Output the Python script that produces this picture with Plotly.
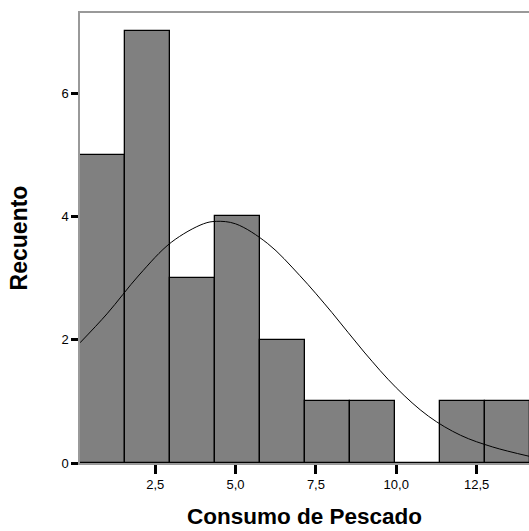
import plotly.graph_objects as go

# Histogram data
bin_start = 0.16
bin_width = 1.4
counts = [5, 7, 3, 4, 2, 1, 1, 0, 1, 1]

# Normal curve points
curve_x = [0.16, 1, 2, 3, 4, 4.4, 5, 6, 7, 8, 9, 10, 11, 12, 13, 14.13]
curve_y = [1.95, 2.42, 3.05, 3.58, 3.88, 3.92, 3.88, 3.56, 3.04, 2.44, 1.80, 1.22, 0.76, 0.45, 0.26, 0.11]

x_tickvals = [2.5, 5.0, 7.5, 10.0, 12.5]
x_ticktext = ["2,5", "5,0", "7,5", "10,0", "12,5"]
y_tickvals = [0, 2, 4, 6]
y_ticktext = ["0", "2", "4", "6"]

x_title = "Consumo de Pescado"
y_title = "Recuento"

centers = [bin_start + bin_width * (i + 0.5) for i in range(len(counts))]

fig = go.Figure()
fig.add_trace(go.Bar(
    x=centers, y=counts, width=[bin_width] * len(counts),
    marker=dict(color="#808080", line=dict(color="black", width=1.3)),
    hoverinfo="skip", showlegend=False,
))
fig.add_trace(go.Scatter(
    x=curve_x, y=curve_y, mode="lines", line=dict(color="black", width=1, shape="spline"),
    hoverinfo="skip", showlegend=False,
))

fig.update_layout(
    width=529, height=531,
    margin=dict(l=80, r=0, t=13, b=68),
    plot_bgcolor="white", paper_bgcolor="white",
    bargap=0,
    font=dict(family="Liberation Sans, Arial, sans-serif", color="black", size=13),
    xaxis=dict(
        range=[0.16, 14.13], tickvals=x_tickvals, ticktext=x_ticktext,
        ticks="outside", ticklen=9, tickwidth=3, tickcolor="black",
        showline=True, linecolor="#999999", linewidth=1.5, mirror=True,
        showgrid=False, zeroline=False, tickfont=dict(size=13),
    ),
    yaxis=dict(
        range=[0, 7.3], tickvals=y_tickvals, ticktext=y_ticktext,
        ticks="outside", ticklen=7, tickwidth=3, tickcolor="black",
        showline=True, linecolor="#999999", linewidth=1.5,
        showgrid=False, zeroline=False, tickfont=dict(size=13),
    ),
    annotations=[
        dict(text="<b>" + x_title + "</b>", xref="paper", yref="paper", x=0.5, y=-0.087,
             xanchor="center", yanchor="top", showarrow=False, font=dict(size=22.5)),
        dict(text="<b>" + y_title + "</b>", xref="paper", yref="paper", x=-0.135, y=0.5,
             xanchor="center", yanchor="middle", textangle=-90, showarrow=False, font=dict(size=23)),
    ],
)

fig.write_html("out.html", config={"displayModeBar": False},
               post_script="document.body.style.margin='0';document.body.style.overflow='hidden';")
